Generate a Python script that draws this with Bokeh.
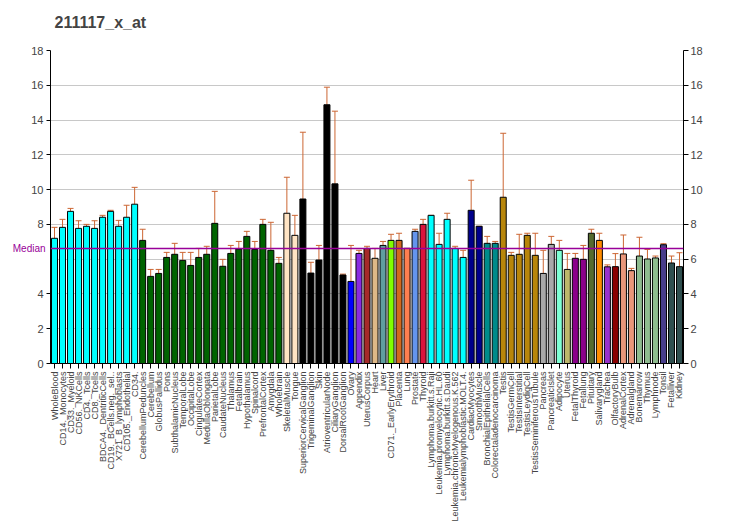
import math
from bokeh.plotting import figure
from bokeh.models import (ColumnDataSource, FactorRange, Range1d, LinearAxis,
                          FixedTicker, Whisker, TeeHead, Span, Label)
from bokeh.embed import file_html
from bokeh.resources import INLINE

names = [
    "WholeBlood", "CD14._Monocytes", "CD33._Myeloid", "CD56._NKCells", "CD4._Tcells",
    "CD8._Tcells", "BDCA4._DentriticCells", "CD19._BCells.neg._sel..", "X721_B_lymphoblasts",
    "CD105._Endothelial", "CD34.", "CerebellumPeduncles", "Cerebellum", "GlobusPallidus",
    "Pons", "SubthalamicNucleus", "TemporalLobe", "OccipitalLobe", "CingulateCortex",
    "MedullaOblongata", "ParietalLobe", "CaudateNucleus", "Thalamus", "Fetalbrain",
    "Hypothalamus", "Spinalcord", "PrefrontalCortex", "Amygdala", "Wholebrain",
    "SkeletalMuscle", "Tongue", "SuperiorCervicalGanglion", "TrigeminalGanglion", "Skin",
    "AtrioventricularNode", "CiliaryGanglion", "DorsalRootGanglion", "Ovary", "Appendix",
    "UterusCorpus", "Heart", "Liver", "CD71._EarlyErythroid", "Placenta", "Lung",
    "Prostate", "Thyroid", "Lymphoma.burkitt.s.Raji", "Leukemia.promyelocytic.HL.60",
    "Lymphoma.burkitt.s.Daudi", "Leukemia.chronicMyelogenous.K.562",
    "Leukemialymphoblastic.MOLT.4.", "CardiacMyocytes", "SmoothMuscle",
    "BronchialEpithelialCells", "Colorectaladenocarcinoma", "Testis", "TestisGermCell",
    "TestisInterstitial", "TestisLeydigCell", "TestisSeminiferousTubule", "Pancreas",
    "PancreaticIslet", "Adipocyte", "Uterus", "FetalThyroid", "Fetallung", "Pituitary",
    "Salivarygland", "Trachea", "OlfactoryBulb", "AdrenalCortex", "Adrenalgland",
    "Bonemarrow", "Thymus", "Lymphnode", "Tonsil", "Fetalliver", "Kidney",
]

values = [
    7.20, 7.83, 8.75, 7.77, 7.89, 7.77, 8.41, 8.75, 7.89, 8.41, 9.16,
    7.08, 5.01, 5.18, 6.10, 6.28, 5.93, 5.64, 6.10, 6.28, 8.06, 5.59, 6.33, 6.58,
    7.31, 6.56, 8.00, 6.51, 5.76,
    8.64, 7.37,
    9.46, 5.20, 5.95, 14.88, 10.33, 5.09,
    4.72, 6.33, 6.62, 6.05, 6.79, 7.08, 7.08, 6.62, 7.60, 8.00,
    8.52, 6.85, 8.29, 6.62, 6.10,
    8.81, 7.89, 6.91, 6.91,
    9.56, 6.22, 6.28, 7.37, 6.22,
    5.18, 6.85, 6.51, 5.41, 6.05, 5.99, 7.49, 7.08, 5.56, 5.57, 6.30, 5.34,
    6.18, 6.01, 6.07, 6.83, 5.78, 5.57,
]

err_top = [
    7.83, 8.29, 8.92, 8.21, 8.00, 8.21, 8.52, 8.81, 8.23, 9.10, 10.13,
    7.72, 5.41, 5.41, 6.39, 6.91, 6.39, 6.39, 6.62, 6.74, 9.90, 5.99, 6.79, 7.02,
    7.60, 7.02, 8.29, 8.12, 6.10,
    10.71, 8.52,
    13.30, 5.82, 6.79, 15.89, 14.51, 5.14,
    6.79, 6.51, 6.74, 6.62, 7.02, 7.43, 7.49, 6.62, 7.72, 8.29,
    8.52, 7.49, 8.64, 6.74, 6.51,
    10.54, 7.89, 7.31, 7.02,
    13.24, 6.39, 7.43, 7.49, 7.49,
    6.51, 7.31, 7.08, 6.33, 6.33, 6.79, 7.72, 7.49, 5.67, 6.32, 7.39, 5.47,
    7.26, 6.56, 6.18, 6.89, 6.18, 6.37,
]

colors = (
    ["#00FFFF"] * 11 + ["#006400"] * 18 + ["#FFE4C4"] * 2 + ["#000000"] * 6 +
    ["#0000FF", "#8A2BE2", "#A52A2A", "#DEB887", "#5F9EA0", "#7FFF00", "#D2691E",
     "#FF7F50", "#6495ED", "#DC143C"] +
    ["#00FFFF"] * 5 + ["#00008B"] * 2 + ["#008B8B"] * 2 + ["#B8860B"] * 5 +
    ["#A9A9A9"] * 2 + ["#7FFFD4", "#BDB76B", "#8B008B", "#8B008B", "#556B2F",
                       "#FF8C00", "#9932CC", "#8B0000", "#E9967A", "#E9967A"] +
    ["#8FBC8F"] * 3 + ["#483D8B"] + ["#2F4F4F"] * 2
)

median_value = 6.61
title_text = "211117_x_at"

FONT = "Liberation Sans"
PURPLE = "#990099"
ERR = "#CC6633"

src = ColumnDataSource(dict(name=names, value=values, upper=err_top, color=colors))

p = figure(x_range=FactorRange(factors=names), y_range=Range1d(0, 18),
           frame_width=633, frame_height=313,
           min_border_left=50, min_border_right=33, min_border_top=50, min_border_bottom=150,
           output_backend="svg", toolbar_location=None, title=title_text)

p.title.text_font = FONT
p.title.text_font_size = "16px"
p.title.text_font_style = "bold"
p.title.align = "left"
p.title.offset = 4
p.title.standoff = 17

p.outline_line_color = None
p.xgrid.visible = False
p.ygrid.ticker = FixedTicker(ticks=[2, 4, 6, 8, 10, 12, 14, 16, 18])
p.ygrid.grid_line_color = "#C8C8C8"

whisk = Whisker(base="name", lower="value", upper="upper", source=src,
                line_color=ERR, line_width=1,
                upper_head=TeeHead(size=6, line_color=ERR, line_width=1),
                lower_head=None, level="underlay")
p.add_layout(whisk)

p.vbar(x="name", top="value", width=0.75, source=src,
       fill_color="color", line_color="black", line_width=1)

p.add_layout(Span(location=median_value, dimension="width",
                  line_color=PURPLE, line_width=1.5))

# "Median" marker text, placed in a side panel so it is not clipped by the frame
p.add_layout(Label(x=-0.62, y=median_value, text="Median", text_align="right",
                   text_baseline="middle", text_color=PURPLE,
                   text_font=FONT, text_font_size="10px"), "above")

# left axis
ya = p.yaxis[0]
ya.ticker = FixedTicker(ticks=[0, 2, 4, 8, 10, 12, 14, 16, 18])
ya.major_tick_out = 4
ya.major_tick_in = 0
ya.minor_tick_line_color = None
ya.major_label_text_font = FONT
ya.major_label_text_font_size = "11px"
ya.major_label_standoff = 3
ya.axis_line_color = "black"

# right axis
ra = LinearAxis(ticker=FixedTicker(ticks=[0, 2, 4, 6, 8, 10, 12, 14, 16, 18]))
ra.major_tick_out = 5
ra.major_tick_in = 0
ra.minor_tick_line_color = None
ra.major_label_text_font = FONT
ra.major_label_text_font_size = "11px"
ra.major_label_standoff = 2
p.add_layout(ra, "right")

# bottom axis
xa = p.xaxis[0]
xa.major_label_orientation = math.pi / 2
xa.major_label_text_font = FONT
xa.major_label_text_font_size = "9px"
xa.major_tick_out = 5
xa.major_tick_in = 0
xa.major_label_standoff = 3
xa.axis_line_color = "black"

open("out.html", "w").write(file_html(p, INLINE))
